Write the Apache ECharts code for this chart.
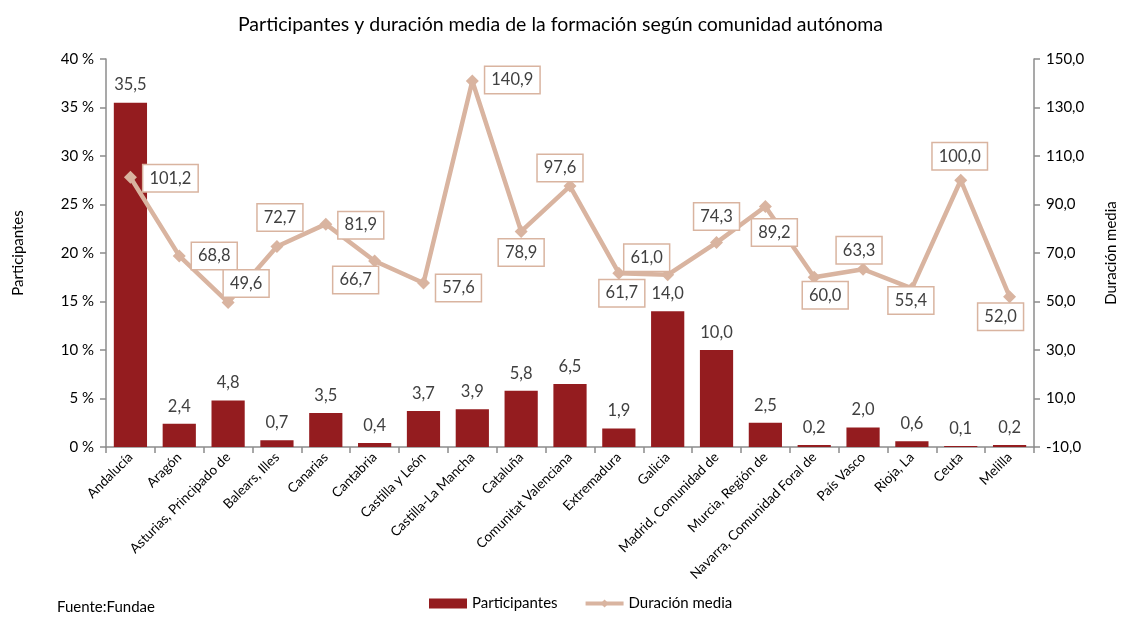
<!DOCTYPE html>
<html>
<head>
    <meta charset="UTF-8">
    <title>Participantes y duración media</title>
    <script src="https://cdn.jsdelivr.net/npm/echarts@6/dist/echarts.min.js"></script>
</head>
<body style="margin: 0; padding: 0; background: #fff;">
    <div id="container" style="width: 1121px; height: 618px;"></div>
    <script>
        // datos
        var comunidades = ['Andalucía', 'Aragón', 'Asturias, Principado de', 'Balears, Illes', 'Canarias',
            'Cantabria', 'Castilla y León', 'Castilla-La Mancha', 'Cataluña', 'Comunitat Valenciana',
            'Extremadura', 'Galicia', 'Madrid, Comunidad de', 'Murcia, Región de',
            'Navarra, Comunidad Foral de', 'País Vasco', 'Rioja, La', 'Ceuta', 'Melilla'];
        var participantes = [35.5, 2.4, 4.8, 0.7, 3.5, 0.4, 3.7, 3.9, 5.8, 6.5, 1.9, 14.0, 10.0, 2.5, 0.2, 2.0, 0.6, 0.1, 0.2];
        var duracionMedia = [101.2, 68.8, 49.6, 72.7, 81.9, 66.7, 57.6, 140.9, 78.9, 97.6, 61.7, 61.0, 74.3, 89.2, 60.0, 63.3, 55.4, 100.0, 52.0];
        var ticksDerecha = [-10, 10, 30, 50, 70, 90, 110, 130, 150];

        // desplazamiento de cada etiqueta de la línea respecto a su punto
        var desplazamientos = [[40, 1], [35, 0], [18, -19], [3, -29], [35, 1], [-19, 19], [35, 5], [40, -1],
            [0, 21], [-10, -18], [3, 20], [-21, -17], [0, -26], [9, 26], [11, 18], [-4, -19], [-1, 12],
            [-1, -24], [-9, 20]];

        var fuente = 'Lato, "Open Sans", sans-serif';
        var colorBarra = '#941c1f';
        var colorLinea = '#d9b4a0';
        var colorEje = '#8c8c8c';

        function coma(v, d) {
            return v.toFixed(d).replace('.', ',');
        }

        var chart = echarts.init(document.getElementById('container'), null, { renderer: 'canvas' });
        var option = {
            backgroundColor: '#fff',
            textStyle: { fontFamily: fuente },
            animation: false,
            title: {
                text: 'Participantes y duración media de la formación según comunidad autónoma',
                left: 'center',
                top: 10,
                textStyle: { fontFamily: fuente, fontSize: 19.5, fontWeight: 'normal', color: '#000' }
            },
            grid: { left: 106, right: 87, top: 59, bottom: 171, outerBoundsMode: 'none' },
            legend: {
                bottom: 2,
                left: 424,
                itemGap: 26,
                itemWidth: 38,
                itemHeight: 10,
                textStyle: { fontFamily: fuente, fontSize: 15, color: '#000' },
                data: [
                    { name: 'Participantes', icon: 'rect' },
                    { name: 'Duración media', lineStyle: { width: 4 } }
                ]
            },
            graphic: [{
                type: 'text',
                left: 57,
                top: 600,
                style: { text: 'Fuente:Fundae', font: '15px ' + fuente, fill: '#000' }
            }],
            xAxis: {
                type: 'category',
                data: comunidades,
                axisLine: { lineStyle: { color: colorEje, width: 1.5 } },
                axisTick: { show: true, length: 6, lineStyle: { color: colorEje, width: 1.5 } },
                axisLabel: { interval: 0, rotate: 45, fontSize: 13.5, color: '#000', margin: 8, fontFamily: fuente }
            },
            yAxis: [{
                type: 'value',
                min: 0,
                max: 40,
                interval: 5,
                name: 'Participantes',
                nameLocation: 'middle',
                nameGap: 80,
                nameTextStyle: { fontSize: 15, color: '#000', fontFamily: fuente },
                axisLine: { show: true, lineStyle: { color: colorEje, width: 1.5 } },
                axisTick: { show: true, length: 6, lineStyle: { color: colorEje, width: 1.5 } },
                splitLine: { show: false },
                axisLabel: {
                    fontSize: 15, color: '#000', margin: 12, fontFamily: fuente,
                    formatter: function (v) { return v + ' %'; }
                }
            }, {
                type: 'value',
                min: -10,
                max: 150,
                name: 'Duración media',
                nameLocation: 'middle',
                nameGap: 70,
                nameRotate: 90,
                nameTextStyle: { fontSize: 15, color: '#000', fontFamily: fuente },
                axisLine: { show: true, lineStyle: { color: colorEje, width: 1.5 } },
                axisTick: { show: true, length: 6, customValues: ticksDerecha, lineStyle: { color: colorEje, width: 1.5 } },
                splitLine: { show: false },
                axisLabel: {
                    fontSize: 15, color: '#000', margin: 12, fontFamily: fuente,
                    customValues: ticksDerecha,
                    formatter: function (v) { return coma(v, 1); }
                }
            }],
            series: [{
                name: 'Participantes',
                type: 'bar',
                yAxisIndex: 0,
                barCategoryGap: '32%',
                itemStyle: { color: colorBarra },
                label: {
                    show: true,
                    position: 'top',
                    distance: 9,
                    fontSize: 16.5,
                    color: '#404040',
                    fontFamily: fuente,
                    formatter: function (p) { return coma(p.value, 1); }
                },
                data: participantes
            }, {
                name: 'Duración media',
                type: 'line',
                yAxisIndex: 1,
                z: 5,
                symbol: 'diamond',
                symbolSize: 13,
                itemStyle: { color: colorLinea },
                lineStyle: { color: colorLinea, width: 4.5 },
                label: {
                    show: true,
                    position: 'inside',
                    fontSize: 16.5,
                    color: '#404040',
                    fontFamily: fuente,
                    backgroundColor: '#fff',
                    borderColor: colorLinea,
                    borderWidth: 1.5,
                    padding: [5, 6, 4, 6],
                    formatter: function (p) { return coma(p.value, 1); }
                },
                data: duracionMedia.map(function (v, i) {
                    return { value: v, label: { offset: desplazamientos[i] } };
                })
            }]
        };
        chart.setOption(option);
    </script>
</body>
</html>
